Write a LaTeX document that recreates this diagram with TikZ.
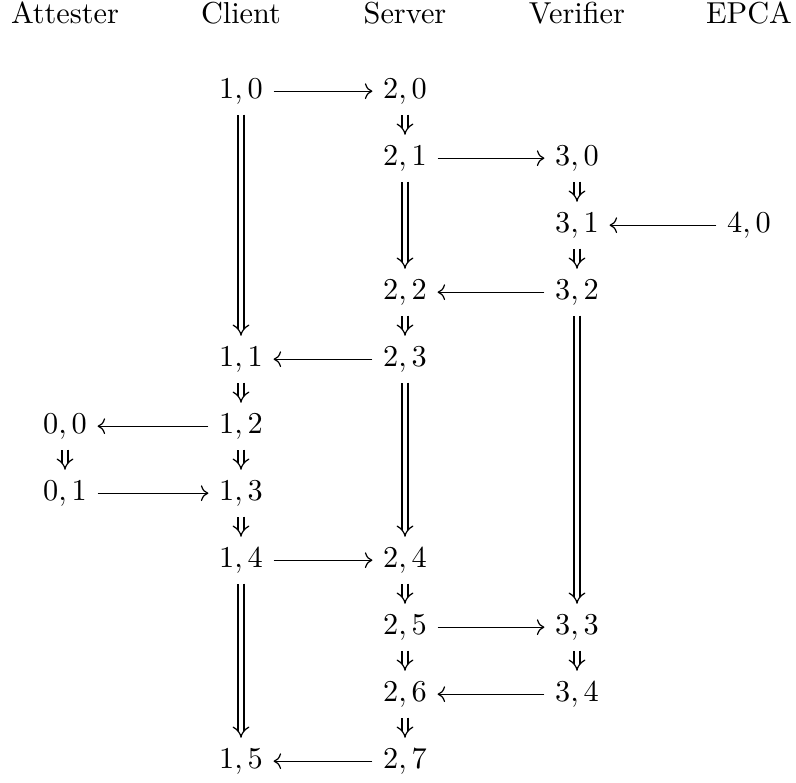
\documentclass[tikz,border=0pt]{standalone}
\usepackage{amsmath}
\usepackage{tikz}
\usetikzlibrary{arrows.meta}

\begin{document}
\begin{tikzpicture}[
                x=0.33pt, y=-0.33pt,
                every node/.style={anchor=base}, % Texts of one row share a baseline
                msg/.style={-{Computer Modern Rightarrow}}, % Message between two parties
                seq/.style={double, double equal sign distance, -{Implies}} % Order within one party
                ]
                \useasboundingbox (0,0) rectangle (796,782);
                % Parties
                \node (attester) at (65,23) {Attester};
                \node (client) at (241,23) {Client};
                \node (server) at (405,23) {Server};
                \node (verifier) at (577,23) {Verifier};
                \node (epca) at (749,23) {EPCA};
                % Events: party/index/column/row
                \foreach \p/\q/\x/\k in {1/0/241/0, 2/0/405/0, 2/1/405/1, 3/0/577/1,
                                         3/1/577/2, 4/0/749/2, 2/2/405/3, 3/2/577/3,
                                         1/1/241/4, 2/3/405/4, 0/0/65/5, 1/2/241/5,
                                         0/1/65/6, 1/3/241/6, 1/4/241/7, 2/4/405/7,
                                         2/5/405/8, 3/3/577/8, 2/6/405/9, 3/4/577/9,
                                         1/5/241/10, 2/7/405/10}
                    \node (e\p\q) at (\x,{98+67*\k}) {$\p,\q$};
                % Order within each party
                \foreach \a/\b in {e00/e01,
                                   e10/e11, e11/e12, e12/e13, e13/e14, e14/e15,
                                   e20/e21, e21/e22, e22/e23, e23/e24, e24/e25, e25/e26, e26/e27,
                                   e30/e31, e31/e32, e32/e33, e33/e34}
                    \draw[seq] (\a) -- (\b);
                % Messages
                \foreach \a/\b in {e10/e20, e21/e30, e40/e31, e32/e22, e23/e11, e12/e00,
                                   e01/e13, e14/e24, e25/e33, e34/e26, e27/e15}
                    \draw[msg] (\a) -- (\b);
            \end{tikzpicture}
\end{document}
